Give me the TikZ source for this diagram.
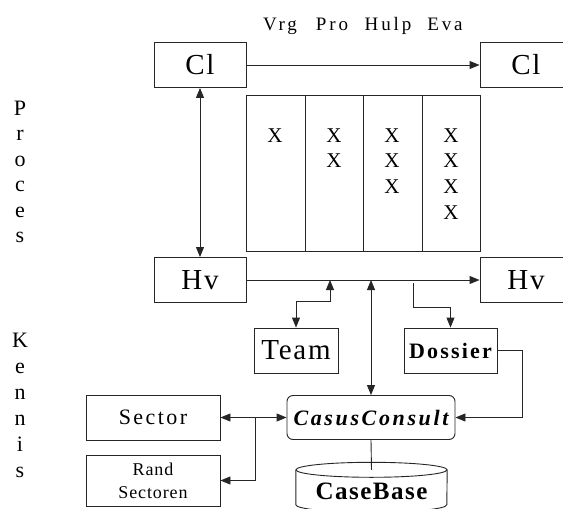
\documentclass[tikz,border=0pt]{standalone}
\usepackage{fontspec}
\setmainfont{Liberation Serif}
\usetikzlibrary{arrows.meta}

\begin{document}
\begin{tikzpicture}[
			x=1pt, y=-1pt,
			box/.style={draw=black!85, line width=0.9pt, minimum width=92pt, minimum height=45pt, inner sep=0pt},
			big/.style={font=\fontsize{29}{30}\selectfont\addfontfeature{LetterSpace=6}},
			mid/.style={font=\fontsize{22}{22}\selectfont\addfontfeature{LetterSpace=11}},
			side/.style={font=\fontsize{22}{22}\selectfont, anchor=base},
			cross/.style={font=\fontsize{21}{21}\selectfont, anchor=base},
			phase/.style={font=\fontsize{19}{19}\selectfont\addfontfeature{LetterSpace=15}, anchor=base},
			line/.style={draw=black!85, line width=0.9pt},
			arr/.style={line, -{Triangle[length=10pt,width=8pt]}},
			arrboth/.style={line, {Triangle[length=10pt,width=8pt]}-{Triangle[length=10pt,width=8pt]}}
		]
		\useasboundingbox (0,0) rectangle (563,509);
		% phases
		\node[phase] (vrg) at (280,30) {Vrg};
		\node[phase] (pro) at (332,30) {Pro};
		\node[phase] (hulp) at (388,30) {Hulp};
		\node[phase] (eva) at (445,30) {Eva};
		% side labels
		\foreach \ch [count=\i] in {P,r,o,c,e,s}
			\node[side] (p\i) at (20,{115+25.5*(\i-1)}) {\ch};
		\foreach \ch [count=\i] in {K,e,n,n,i,s}
			\node[side] (k\i) at (20,{347+26*(\i-1)}) {\ch};
		% process boxes
		\node[box, big] (cl1) at (200,65) {Cl};
		\node[box, big] (cl2) at (526,65) {Cl};
		\node[box, big] (hv1) at (200,280) {Hv};
		\node[box, big] (hv2) at (526,280) {Hv};
		% table
		\node[box, minimum width=234pt, minimum height=156pt] (tab) at (363,173) {};
		\foreach \cx in {305,363,422}
			\draw[line] (\cx,95) -- (\cx,251);
		\foreach \cx [count=\c] in {275,334,392,451}
			\foreach \r in {1,...,\c}
				\node[cross] (x\c\r) at (\cx,{142+25.7*(\r-1)}) {X};
		% knowledge
		\node[box, big, minimum width=84pt] (team) at (296,350.5) {Team};
		\node[box, minimum width=93pt, font=\fontsize{22}{22}\selectfont\bfseries\addfontfeature{LetterSpace=10}] (dossier) at (450.5,350.5) {Dossier};
		\node[box, rounded corners=6pt, minimum width=168pt, minimum height=44pt, font=\fontsize{22}{22}\selectfont\bfseries\itshape\addfontfeature{LetterSpace=12}] (cc) at (371,417.5) {CasusConsult};
		\node[box, mid, minimum width=134pt] (sector) at (153,417.5) {Sector};
		\node[box, minimum width=134pt, minimum height=51pt, align=center, font=\fontsize{18}{23}\selectfont\addfontfeature{LetterSpace=5}] (rand) at (153,480.5) {Rand\\Sectoren};
		\node[minimum width=151pt, minimum height=43pt, inner sep=0pt, font=\fontsize{25}{25}\selectfont\bfseries\addfontfeature{LetterSpace=6}] (casebase) at (371.5,491.5) {CaseBase};
		\draw[line] (casebase.north) ellipse [x radius=75.5pt, y radius=7.5pt];
		\draw[line] (casebase.north west) -- ++(0,35) arc[start angle=180, end angle=360, x radius=75.5pt, y radius=7.5pt] -- (casebase.north east);
		% junctions
		\coordinate (tj) at (330,280);
		\coordinate (cj) at (371,280);
		\coordinate (dj) at (413,283);
		\coordinate (sj) at (255,417.5);
		% connectors
		\draw[arr] (cl1) -- (cl2);
		\draw[arrboth] (cl1) -- (hv1);
		\draw[arr] (hv1) -- (hv2);
		\draw[arrboth] (team.north) -- ++(0,-26) -| (tj);
		\draw[arrboth] (cc.north) -- (cj);
		\draw[arr] (dj) -- ++(0,24) -| (dossier.north);
		\draw[arr] (dossier.east) -- ++(25,0) |- (cc.east);
		\draw[arr] (sj) -- (cc.west);
		\draw[arr] (sj) -- (sector.east);
		\draw[arr] (sj) |- (rand.east);
		\draw[line] (cc.south) -- (casebase.north);
	\end{tikzpicture}
\end{document}
